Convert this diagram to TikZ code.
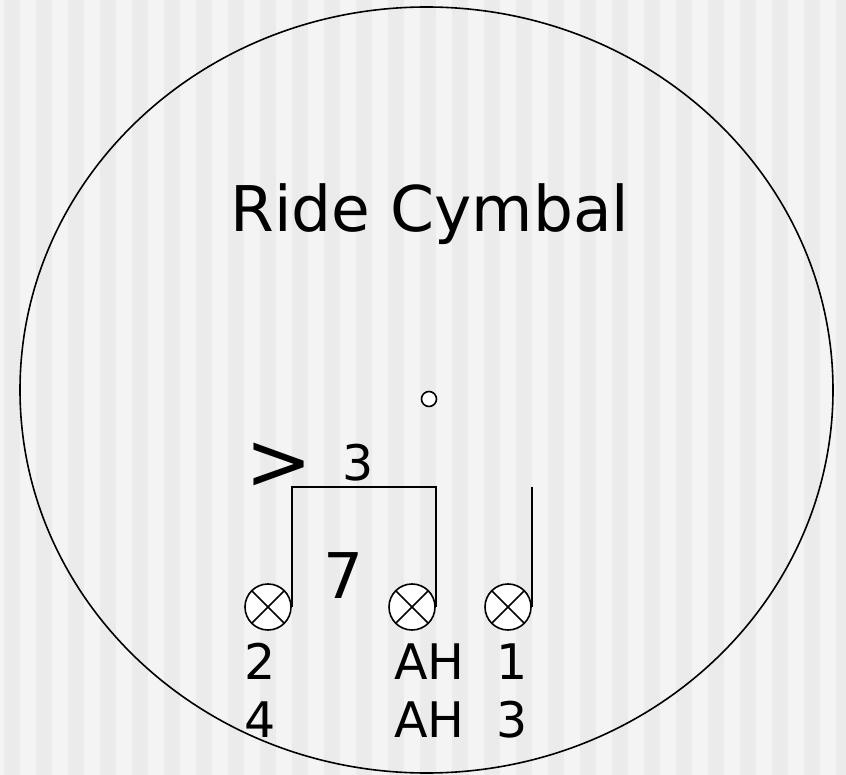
\documentclass[tikz,border=0pt]{standalone}
\usepackage{fontspec}
\setmainfont{DejaVu Sans}
\definecolor{stripeA}{HTML}{F4F4F4}
\definecolor{stripeB}{HTML}{EBEBEB}
\begin{document}
\begin{tikzpicture}[x=1pt,y=-1pt,
  outline/.style={draw=black,line width=1.6pt},
  notehead/.style={circle,draw=black,line width=1.6pt,fill=white,minimum size=46pt,inner sep=0pt,
    path picture={\draw[line width=1.6pt] (path picture bounding box.north west)--(path picture bounding box.south east)
      (path picture bounding box.north east)--(path picture bounding box.south west);}},
  lbl/.style={anchor=base west,inner sep=0pt,font=\fontsize{49}{58}\selectfont},
  big/.style={inner sep=0pt,font=\fontsize{63}{70}\selectfont}]
\useasboundingbox (0,0) rectangle (846,775);
\fill[stripeA] (0,0) rectangle (846,775);
\foreach \k in {0,...,26}{\fill[stripeB] (4+32*\k,0) rectangle (20+32*\k,775);}
\draw[outline] (426.5,390) ellipse [x radius=406.5, y radius=383];
\node[big,anchor=base] (title) at (430,232) {Ride Cymbal};
\node[circle,draw=black,line width=1.6pt,fill=white,minimum size=15pt,inner sep=0pt] (dot) at (429,399) {};
\node[notehead] (n1) at (268,607) {};
\node[notehead] (n2) at (412,607) {};
\node[notehead] (n3) at (508,607) {};
\coordinate (top) at (0,487);
\draw[line width=1.6pt] (n1.east) -- (n1.east |- top) -- (n2.east |- top) -- (n2.east);
\draw[line width=1.6pt] (n3.east) -- (n3.east |- top);
\node[inner sep=0pt,anchor=base west,font=\fontsize{80}{84}\selectfont] (acc) at (245,489) {>};
\node[lbl] (tri) at (342,480) {3};
\node[big,anchor=base west] (seven) at (323,598) {7};
\node[lbl] (l1a) at (244,679) {2};
\node[lbl] (l1b) at (244,737) {4};
\node[lbl] (l2a) at (394,679) {AH};
\node[lbl] (l2b) at (394,737) {AH};
\node[lbl] (l3a) at (496,679) {1};
\node[lbl] (l3b) at (496,737) {3};
\end{tikzpicture}
\end{document}
